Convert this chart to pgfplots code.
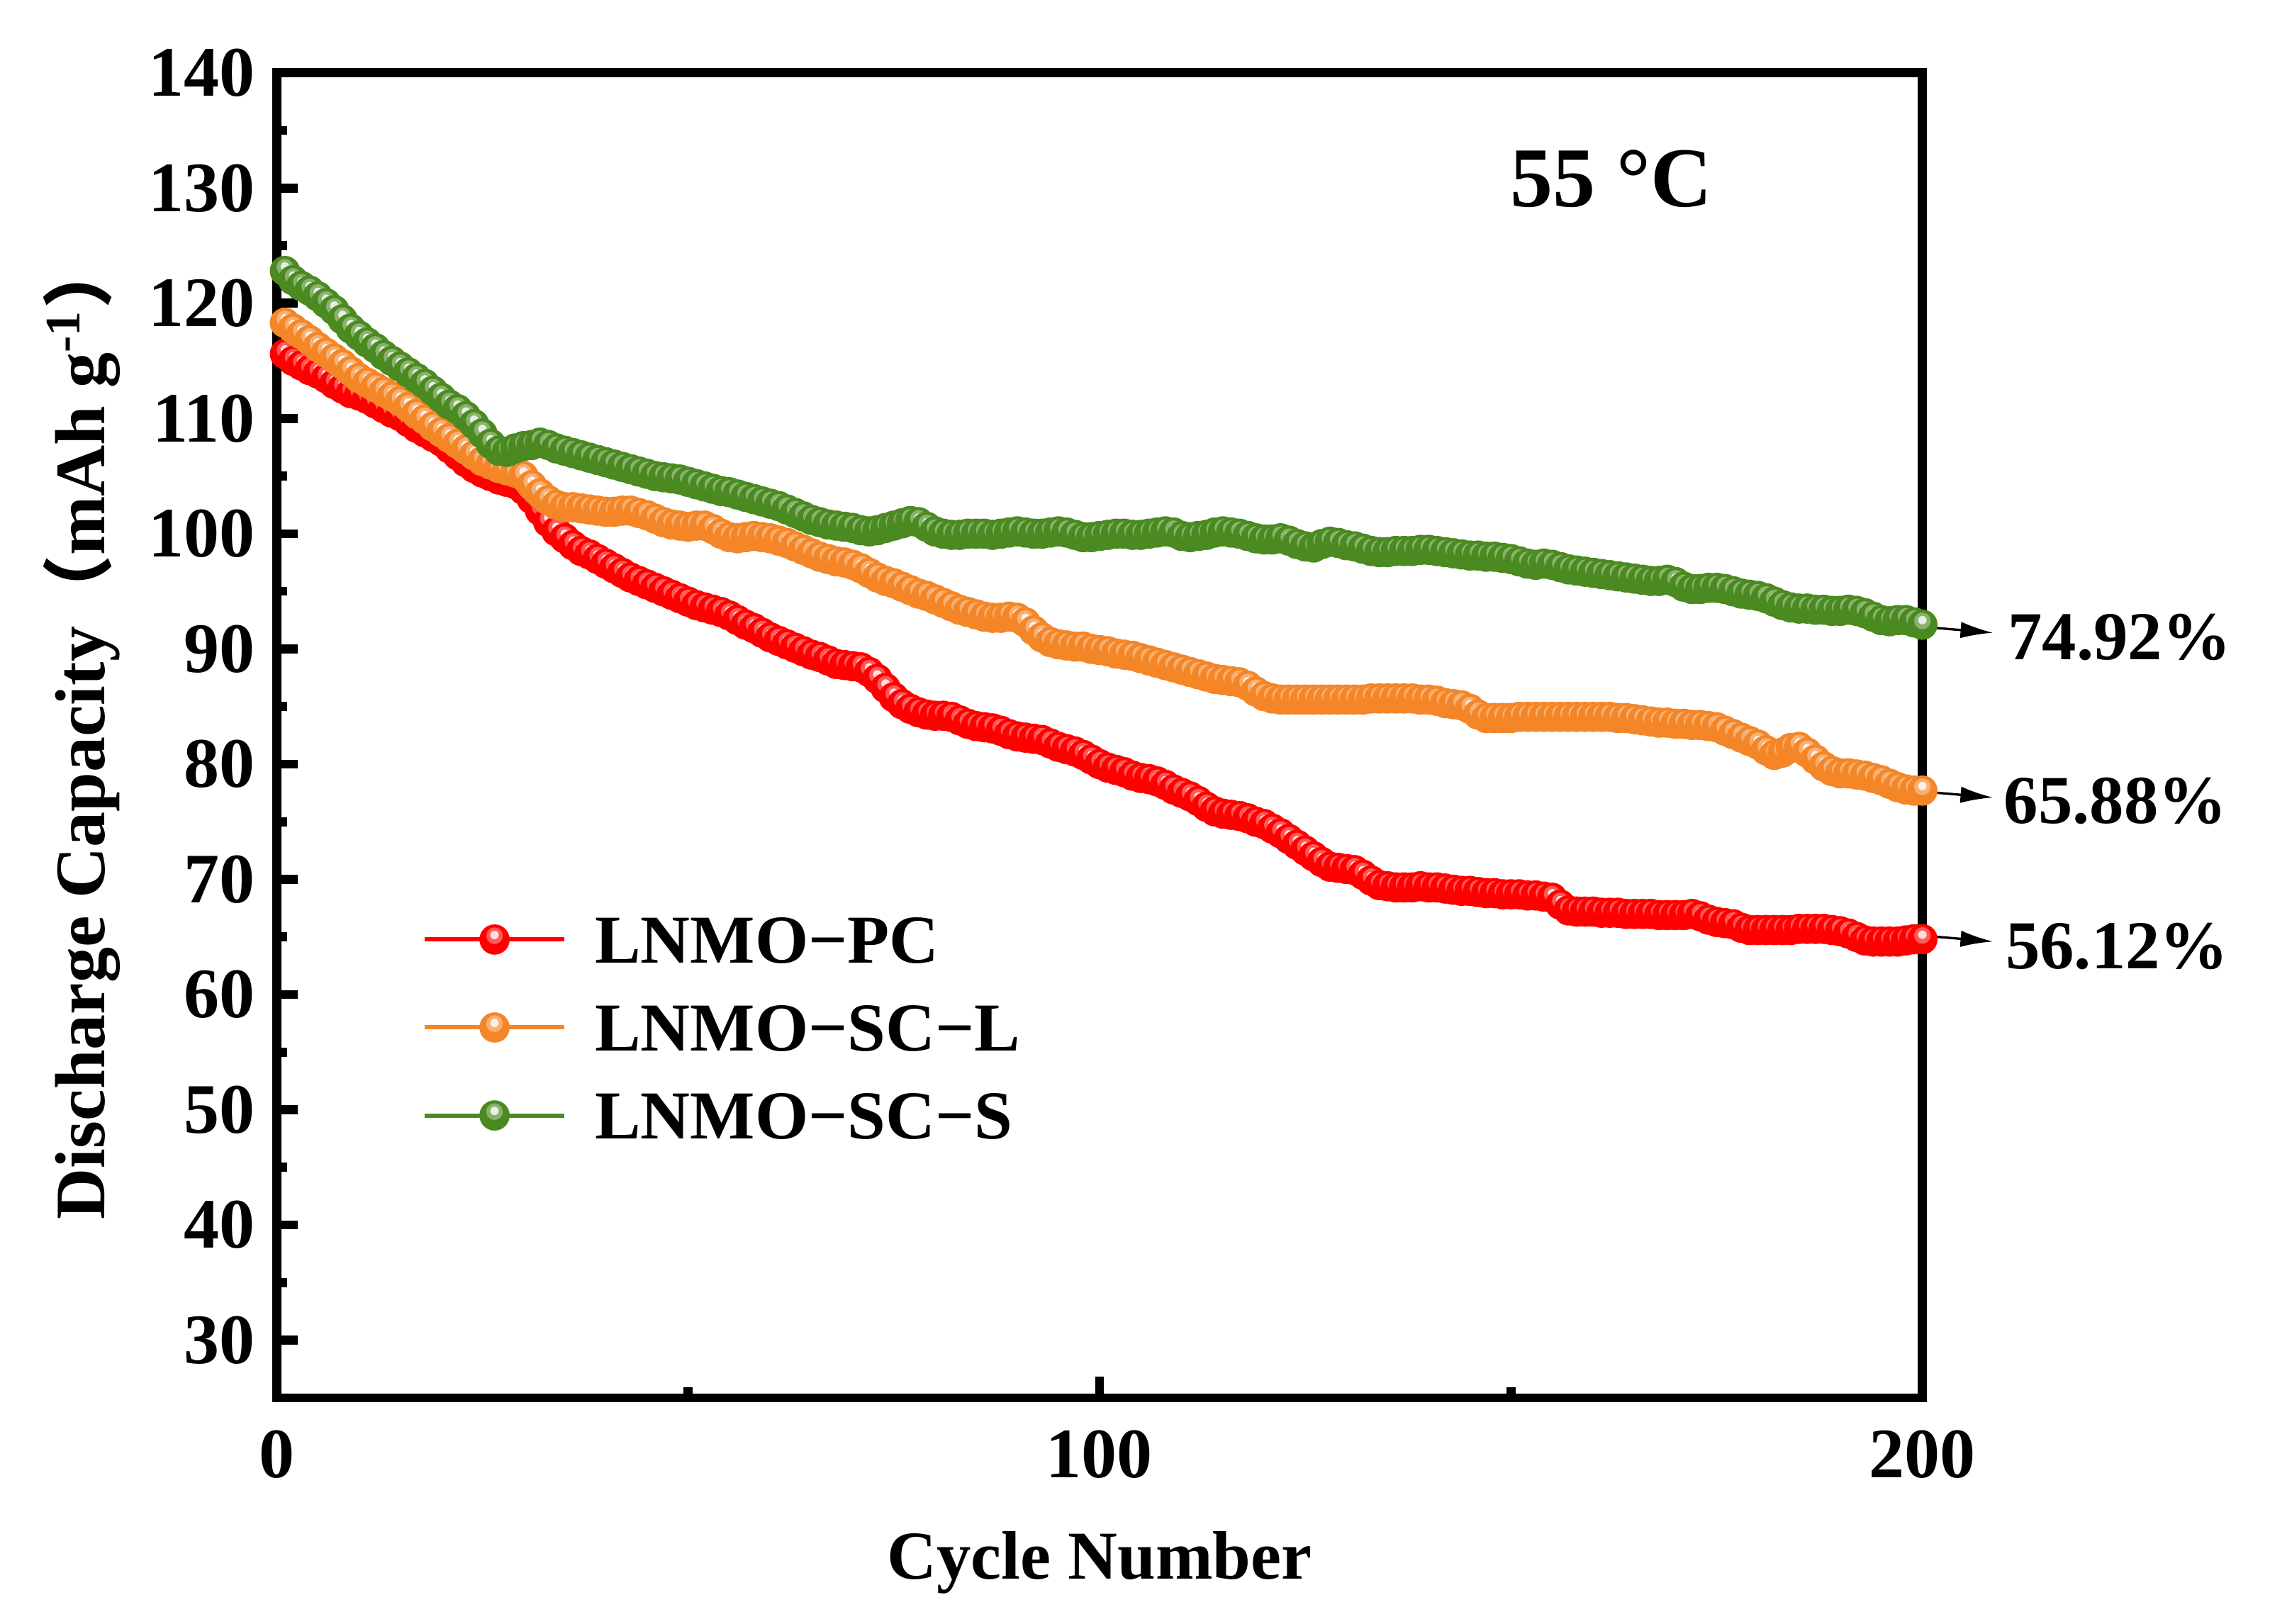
\documentclass[border=0pt]{standalone}
\usepackage{fontspec}
\setmainfont{Liberation Serif}
\newfontfamily\cjk{Noto Sans CJK SC}
\usepackage{pgfplots}
\pgfplotsset{compat=1.18}
\usepackage{pgfplotstable}
\usetikzlibrary{arrows.meta}

\definecolor{cred}{RGB}{255,0,0}
\definecolor{corange}{RGB}{244,134,40}
\definecolor{cgreen}{RGB}{74,138,32}

\pgfdeclareplotmark{shinyball}{%
  \pgfpathcircle{\pgfpoint{0pt}{0pt}}{\pgfplotmarksize}%
  \pgfusepathqfill
  \begin{pgfscope}%
  \pgfsetfillcolor{white}%
  \pgfsetfillopacity{0.35}%
  \pgfpathcircle{\pgfpoint{0pt}{0.25\pgfplotmarksize}}{0.55\pgfplotmarksize}%
  \pgfusepathqfill
  \pgfsetfillopacity{0.8}%
  \pgfpathcircle{\pgfpoint{0pt}{0.3\pgfplotmarksize}}{0.28\pgfplotmarksize}%
  \pgfusepathqfill
  \end{pgfscope}%
}

\pgfplotstableread{
c pc scl scs
1 115.6 118.3 122.8
2 115.0 117.8 122.0
3 114.6 117.3 121.5
4 114.2 116.8 121.1
5 113.9 116.2 120.6
6 113.5 115.7 120.0
7 113.0 115.2 119.4
8 112.6 114.7 118.6
9 112.2 114.1 117.8
10 112.0 113.5 117.2
11 111.7 113.1 116.6
12 111.3 112.7 116.1
13 110.9 112.3 115.5
14 110.5 111.9 115.0
15 110.2 111.5 114.5
16 109.7 111.0 114.0
17 109.2 110.4 113.5
18 108.8 109.9 113.0
19 108.4 109.3 112.4
20 108.0 108.8 111.8
21 107.4 108.3 111.2
22 106.8 107.8 110.8
23 106.2 107.3 110.2
24 105.7 106.8 109.5
25 105.3 106.3 108.7
26 105.0 106.0 107.8
27 104.7 105.7 107.2
28 104.5 105.5 107.1
29 104.3 105.3 107.4
30 103.8 105.0 107.6
31 103.0 104.2 107.7
32 102.0 103.5 107.9
33 101.0 102.9 107.7
34 100.2 102.5 107.4
35 99.6 102.3 107.2
36 99.0 102.3 107.0
37 98.5 102.2 106.8
38 98.2 102.1 106.6
39 97.8 102.0 106.4
40 97.4 101.9 106.2
41 97.0 101.9 106.0
42 96.6 102.0 105.8
43 96.2 102.0 105.6
44 95.9 101.8 105.4
45 95.6 101.6 105.2
46 95.3 101.3 105.0
47 95.0 101.0 104.9
48 94.7 100.8 104.8
49 94.4 100.7 104.7
50 94.1 100.6 104.5
51 93.8 100.7 104.3
52 93.6 100.7 104.1
53 93.4 100.4 103.9
54 93.2 100.0 103.7
55 92.9 99.7 103.6
56 92.5 99.6 103.4
57 92.1 99.7 103.2
58 91.8 99.8 103.0
59 91.4 99.7 102.8
60 91.0 99.6 102.6
61 90.7 99.4 102.4
62 90.4 99.2 102.1
63 90.1 98.9 101.8
64 89.8 98.6 101.5
65 89.5 98.3 101.2
66 89.3 98.0 101.0
67 89.0 97.8 100.8
68 88.7 97.6 100.7
69 88.6 97.5 100.6
70 88.5 97.3 100.5
71 88.4 97.0 100.3
72 88.0 96.6 100.2
73 87.4 96.2 100.3
74 86.6 95.9 100.5
75 85.8 95.7 100.7
76 85.2 95.4 100.9
77 84.8 95.1 101.1
78 84.5 94.8 101.0
79 84.3 94.6 100.6
80 84.2 94.3 100.2
81 84.2 94.0 100.0
82 84.1 93.7 99.9
83 83.8 93.4 99.9
84 83.5 93.2 100.0
85 83.3 93.0 100.0
86 83.2 92.8 100.0
87 83.1 92.7 99.9
88 82.9 92.7 100.0
89 82.6 92.8 100.1
90 82.4 92.7 100.2
91 82.3 92.3 100.1
92 82.2 91.6 100.0
93 82.1 91.0 100.0
94 81.8 90.6 100.1
95 81.5 90.4 100.2
96 81.3 90.3 100.1
97 81.1 90.2 99.9
98 80.8 90.2 99.7
99 80.4 90.0 99.7
100 80.0 89.9 99.8
101 79.7 89.8 99.9
102 79.5 89.6 100.0
103 79.3 89.5 100.0
104 79.0 89.4 99.9
105 78.8 89.2 99.9
106 78.7 89.0 100.0
107 78.5 88.8 100.1
108 78.2 88.6 100.2
109 77.8 88.4 100.1
110 77.5 88.2 99.8
111 77.2 88.0 99.7
112 76.8 87.8 99.8
113 76.3 87.6 99.9
114 75.9 87.4 100.1
115 75.7 87.3 100.2
116 75.6 87.2 100.1
117 75.5 87.1 100.0
118 75.3 86.8 99.8
119 75.0 86.3 99.6
120 74.8 85.9 99.5
121 74.4 85.7 99.5
122 74.0 85.6 99.6
123 73.5 85.6 99.4
124 73.0 85.6 99.1
125 72.5 85.6 98.9
126 72.0 85.6 98.8
127 71.5 85.6 99.1
128 71.1 85.6 99.3
129 71.0 85.6 99.2
130 70.9 85.6 99.0
131 70.8 85.6 98.9
132 70.4 85.6 98.7
133 69.9 85.7 98.5
134 69.5 85.7 98.4
135 69.4 85.7 98.4
136 69.3 85.7 98.5
137 69.3 85.7 98.5
138 69.3 85.7 98.5
139 69.4 85.6 98.6
140 69.3 85.6 98.6
141 69.3 85.5 98.5
142 69.2 85.3 98.4
143 69.1 85.2 98.3
144 69.0 85.1 98.2
145 69.0 84.8 98.1
146 68.9 84.3 98.1
147 68.8 84.0 98.0
148 68.8 84.0 98.0
149 68.7 84.0 97.9
150 68.7 84.0 97.8
151 68.7 84.1 97.6
152 68.6 84.1 97.4
153 68.6 84.1 97.3
154 68.5 84.1 97.4
155 68.4 84.1 97.3
156 67.8 84.1 97.1
157 67.3 84.1 96.9
158 67.2 84.1 96.8
159 67.2 84.1 96.7
160 67.2 84.1 96.6
161 67.1 84.1 96.5
162 67.1 84.1 96.4
163 67.1 84.0 96.3
164 67.0 84.0 96.2
165 67.0 83.9 96.1
166 67.0 83.8 96.0
167 67.0 83.7 95.9
168 66.9 83.6 95.9
169 66.9 83.6 96.0
170 66.9 83.5 95.8
171 66.9 83.5 95.4
172 67.0 83.4 95.2
173 66.8 83.4 95.2
174 66.5 83.3 95.3
175 66.3 83.2 95.3
176 66.2 82.9 95.2
177 66.1 82.6 95.0
178 65.8 82.3 94.8
179 65.6 82.0 94.7
180 65.6 81.7 94.6
181 65.6 81.2 94.4
182 65.6 80.8 94.1
183 65.6 81.0 93.8
184 65.6 81.4 93.6
185 65.7 81.5 93.5
186 65.7 81.0 93.5
187 65.7 80.4 93.4
188 65.7 79.8 93.4
189 65.6 79.4 93.3
190 65.5 79.2 93.3
191 65.3 79.2 93.4
192 65.0 79.1 93.3
193 64.7 79.0 93.1
194 64.6 78.8 92.8
195 64.6 78.6 92.5
196 64.6 78.3 92.4
197 64.6 78.0 92.5
198 64.7 77.8 92.5
199 64.8 77.7 92.3
200 64.8 77.7 92.1
}\datatab

\begin{document}
\begin{tikzpicture}
\begin{axis}[
  at={(58.5pt,47.8pt)}, anchor=south west,
  scale only axis, width=348pt, height=280.2pt,
  xmin=0, xmax=200, ymin=25, ymax=140,
  xtick={0,100,200}, minor xtick={50,150},
  ytick={30,40,...,140}, minor ytick={35,45,...,135},
  tick align=inside, xtick pos=bottom, ytick pos=left,
  major tick length=4.5pt, minor tick length=2.2pt,
  axis line style={line width=1.9pt, black},
  tick style={line width=1.9pt, black},
  /pgf/number format/assume math mode=true,
  ticklabel style={font=\fontsize{15}{17}\selectfont\bfseries},
  xticklabel style={yshift=-3.3pt},
  yticklabel style={xshift=-1pt},
  xlabel={Cycle Number},
  xlabel style={font=\fontsize{14.5}{17}\selectfont\bfseries, at={(axis description cs:0.5,-0.1365)}, anchor=base},
  ylabel={Discharge Capacity{\cjk （}mAh g\textsuperscript{-1}{\cjk ）}},
  ylabel style={font=\fontsize{15}{17}\selectfont\bfseries, at={(axis description cs:-0.1045,0.505)}, anchor=base, rotate=0},
  clip=false,
  legend style={at={(axis description cs:0.088,0.368)}, anchor=north west, draw=none, fill=none,
    font=\fontsize{14.5}{17}\selectfont\bfseries, inner sep=0pt, row sep=6.6pt, column sep=5pt,
    nodes={inner sep=1pt, text height=10pt, text depth=0pt}},
  legend cell align=left,
  legend image code/.code={\draw[#1, mark repeat=2, mark phase=2] plot coordinates {(0pt,0pt) (14.8pt,0pt) (29.6pt,0pt)};},
]
\addplot[cred, line width=0.9pt, mark=shinyball, mark size=3.2pt, mark options={fill=cred, draw=none}] table[x=c, y=pc] {\datatab};
\addlegendentry{LNMO−PC}
\addplot[corange, line width=0.9pt, mark=shinyball, mark size=3.2pt, mark options={fill=corange, draw=none}] table[x=c, y=scl] {\datatab};
\addlegendentry{LNMO−SC−L}
\addplot[cgreen, line width=0.9pt, mark=shinyball, mark size=3.2pt, mark options={fill=cgreen, draw=none}] table[x=c, y=scs] {\datatab};
\addlegendentry{LNMO−SC−S}

\node[font=\fontsize{18}{21}\selectfont\bfseries] at (axis cs:162.2,130.8) {55 °C};

\draw[-{Latex[length=6.9pt,width=3.5pt]}, line width=0.5pt] (axis cs:200.3,91.9) -- (axis cs:208.6,91.4);
\draw[-{Latex[length=6.9pt,width=3.5pt]}, line width=0.5pt] (axis cs:200.3,77.6) -- (axis cs:208.6,77.1);
\draw[-{Latex[length=6.9pt,width=3.5pt]}, line width=0.5pt] (axis cs:200.3,65.1) -- (axis cs:208.6,64.6);
\node[anchor=west, inner sep=0pt, font=\fontsize{14.5}{16}\selectfont\bfseries] at (axis cs:210.3,91.0) {74.92\%};
\node[anchor=west, inner sep=0pt, font=\fontsize{14.5}{16}\selectfont\bfseries] at (axis cs:209.8,76.8) {65.88\%};
\node[anchor=west, inner sep=0pt, font=\fontsize{14.5}{16}\selectfont\bfseries] at (axis cs:210.0,64.2) {56.12\%};
\end{axis}
\pgfresetboundingbox
\path (0,0) rectangle (480pt,343.4pt);
\end{tikzpicture}
\end{document}
